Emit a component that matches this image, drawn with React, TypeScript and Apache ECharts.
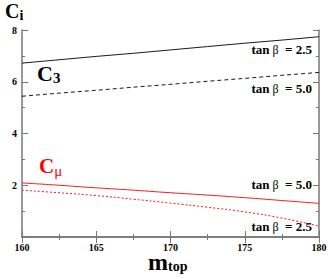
import React, { useEffect, useRef } from "react";
import * as echarts from "echarts";

const mTop = [160, 162.5, 165, 167.5, 170, 172.5, 175, 177.5, 180];
const c3Tan25 = [6.72, 6.85, 6.98, 7.1, 7.23, 7.36, 7.49, 7.61, 7.74];
const c3Tan50 = [5.44, 5.56, 5.67, 5.79, 5.9, 6.02, 6.13, 6.25, 6.36];
const cmuTan50 = [2.09, 2.0, 1.9, 1.81, 1.71, 1.62, 1.52, 1.41, 1.3];
const cmuTan25 = [1.81, 1.71, 1.6, 1.46, 1.31, 1.15, 0.97, 0.73, 0.42];
const xTicks = [160, 165, 170, 175, 180];
const yTicks = [2, 4, 6, 8];

const serif = "'Liberation Serif', 'DejaVu Serif', serif";

function pairs(ys: number[]) {
  return mTop.map((x, i) => [x, ys[i]]);
}

export default function App() {
  const ref = useRef<HTMLDivElement>(null);
  useEffect(() => {
    if (!ref.current) return;
    const chart = echarts.init(ref.current, null, { renderer: "svg" });
    const axisLine = { show: true, lineStyle: { color: "#777", width: 1.5 } };
    const tick = { show: true, inside: true, length: 6, lineStyle: { color: "#777", width: 1 } };
    const minor = { show: true, splitNumber: 2, length: 3, lineStyle: { color: "#777", width: 1 } };
    const tanLabel = (t: string, right: number, top: number) => ({
      type: "text",
      right,
      top,
      style: {
        text: `{b|tan}{g| β}{b|  = ${t}}`,
        rich: {
          b: { fontFamily: serif, fontWeight: "bold", fontSize: 13, fill: "#000" },
          g: { fontFamily: serif, fontSize: 12, fill: "#000" },
        },
      },
    });
    chart.setOption({
      animation: false,
      grid: { left: 22, right: 16, top: 30, bottom: 42 },
      xAxis: [
        {
          type: "value",
          min: 160,
          max: 180,
          interval: 5,
          axisLine,
          axisTick: tick,
          minorTick: minor,
          splitLine: { show: false },
          axisLabel: {
            color: "#000",
            fontFamily: serif,
            fontWeight: "bold",
            fontSize: 10,
            margin: 5,
            formatter: (v: number) => (xTicks.includes(v) ? String(v) : ""),
          },
        },
        {
          type: "value",
          position: "top",
          min: 160,
          max: 180,
          interval: 5,
          axisLine,
          axisTick: tick,
          minorTick: minor,
          splitLine: { show: false },
          axisLabel: { show: false },
        },
      ],
      yAxis: [
        {
          type: "value",
          min: 0,
          max: 8,
          interval: 2,
          axisLine,
          axisTick: tick,
          minorTick: minor,
          splitLine: { show: false },
          axisLabel: {
            color: "#000",
            fontFamily: serif,
            fontWeight: "bold",
            fontSize: 10,
            margin: 5,
            formatter: (v: number) => (yTicks.includes(v) ? String(v) : ""),
          },
        },
        {
          type: "value",
          position: "right",
          min: 0,
          max: 8,
          interval: 2,
          axisLine,
          axisTick: tick,
          minorTick: minor,
          splitLine: { show: false },
          axisLabel: { show: false },
        },
      ],
      series: [
        {
          type: "line",
          data: pairs(c3Tan25),
          showSymbol: false,
          lineStyle: { color: "#000", width: 0.9 },
        },
        {
          type: "line",
          data: pairs(c3Tan50),
          showSymbol: false,
          lineStyle: { color: "#000", width: 0.9, type: [4, 3] },
        },
        {
          type: "line",
          data: pairs(cmuTan50),
          showSymbol: false,
          smooth: true,
          lineStyle: { color: "#ff0000", width: 0.9 },
        },
        {
          type: "line",
          data: pairs(cmuTan25),
          showSymbol: false,
          smooth: true,
          lineStyle: { color: "#ff0000", width: 0.9, type: [2, 2] },
        },
      ],
      graphic: [
        {
          type: "text",
          left: 5,
          top: 1,
          style: {
            text: "{c|C}{s|i}",
            rich: {
              c: { fontFamily: serif, fontWeight: "bold", fontSize: 20, fill: "#000" },
              s: { fontFamily: serif, fontWeight: "bold", fontSize: 14, fill: "#000", padding: [9, 0, 0, 0] },
            },
          },
        },
        {
          type: "text",
          left: 37,
          top: 62,
          style: {
            text: "{c|C}{s|3}",
            rich: {
              c: { fontFamily: serif, fontWeight: "bold", fontSize: 22, fill: "#000" },
              s: { fontFamily: serif, fontWeight: "bold", fontSize: 15, fill: "#000", padding: [10, 0, 0, 0] },
            },
          },
        },
        {
          type: "text",
          left: 39,
          top: 155,
          style: {
            text: "{c|C}{s|μ}",
            rich: {
              c: { fontFamily: serif, fontWeight: "bold", fontSize: 21, fill: "#ff0000" },
              s: { fontFamily: serif, fontSize: 15, fill: "#ff0000", padding: [10, 0, 0, 0] },
            },
          },
        },
        {
          type: "text",
          left: 148,
          top: 250,
          style: {
            text: "{c|m}{s|top}",
            rich: {
              c: { fontFamily: serif, fontWeight: "bold", fontSize: 24, lineHeight: 16, fill: "#000" },
              s: { fontFamily: serif, fontWeight: "bold", fontSize: 14, lineHeight: 14, fill: "#000", padding: [8, 0, 0, 0] },
            },
          },
        },
        tanLabel("2.5", 23, 43),
        tanLabel("5.0", 23, 82),
        tanLabel("5.0", 23, 178),
        tanLabel("2.5", 23, 220),
      ],
    });
    return () => chart.dispose();
  }, []);
  return (
    <div
      ref={ref}
      style={{ position: "absolute", left: 0, top: 0, width: 335, height: 279 }}
    />
  );
}
